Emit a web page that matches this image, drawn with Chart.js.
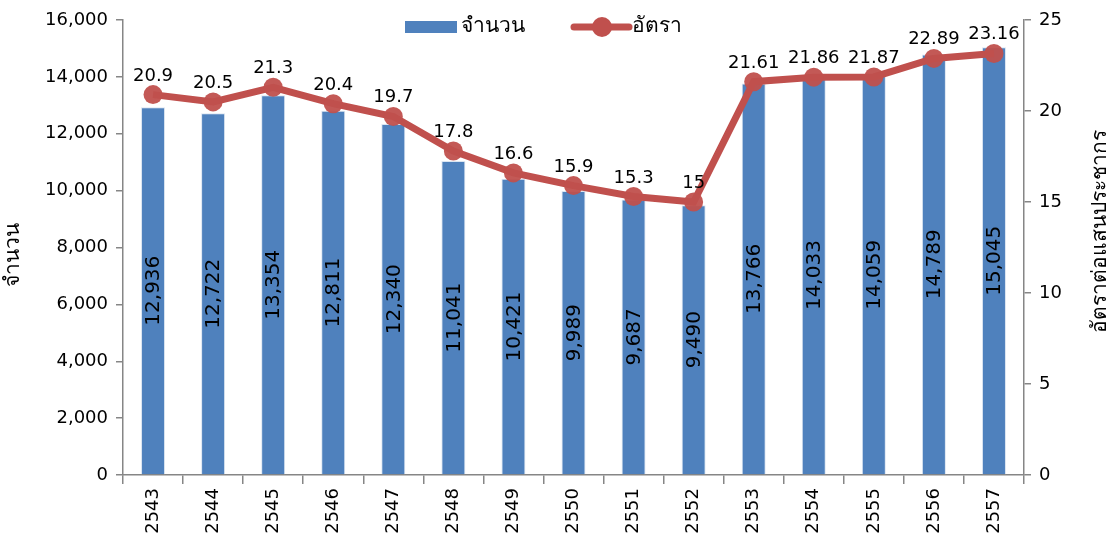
<!DOCTYPE html>
<html>
<head>
<meta charset="utf-8">
<script src="https://cdn.jsdelivr.net/npm/chart.js@4"></script>
<style>
  html, body { margin: 0; padding: 0; background: #fff; }
  #wrap { width: 1113px; height: 542px; }
</style>
</head>
<body>
<div id="wrap"><canvas id="chart" width="1113" height="542"></canvas></div>
<script>
const years = ['2543','2544','2545','2546','2547','2548','2549','2550','2551','2552','2553','2554','2555','2556','2557'];
const counts = [12936, 12722, 13354, 12811, 12340, 11041, 10421, 9989, 9687, 9490, 13766, 14033, 14059, 14789, 15045];
const rates = [20.9, 20.5, 21.3, 20.4, 19.7, 17.8, 16.6, 15.9, 15.3, 15, 21.61, 21.86, 21.87, 22.89, 23.16];
const countTicks = [0, 2000, 4000, 6000, 8000, 10000, 12000, 14000, 16000];
const rateTicks = [0, 5, 10, 15, 20, 25];

const BLUE = '#4F81BD';
const RED = '#C0504D';
const AXIS = '#868686';
const FONT = "'DejaVu Sans', sans-serif";

// labels, legend and axis titles drawn on top
const overlayPlugin = {
    id: 'overlay',
    afterDatasetsDraw(chart) {
        const ctx = chart.ctx;
        ctx.save();
        ctx.fillStyle = '#000';

        // bar values, rotated, centred in bar
        const barMeta = chart.getDatasetMeta(0);
        ctx.font = '20px ' + FONT;
        ctx.textAlign = 'center';
        ctx.textBaseline = 'middle';
        barMeta.data.forEach((bar, i) => {
            const midY = (bar.y + bar.base) / 2;
            ctx.save();
            ctx.translate(bar.x, midY);
            ctx.rotate(-Math.PI / 2);
            ctx.fillText(counts[i].toLocaleString('en-US'), 0, 1);
            ctx.restore();
        });

        // rate values above points
        const lineMeta = chart.getDatasetMeta(1);
        ctx.font = '18px ' + FONT;
        ctx.textBaseline = 'alphabetic';
        lineMeta.data.forEach((pt, i) => {
            ctx.fillText(String(rates[i]), pt.x, pt.y - 14);
        });

        // axis titles
        ctx.font = '21px ' + FONT;
        ctx.textBaseline = 'middle';
        ctx.save();
        ctx.translate(14, 255);
        ctx.rotate(-Math.PI / 2);
        ctx.fillText('จำนวน', 0, 0);
        ctx.restore();
        ctx.save();
        ctx.translate(1101, 231);
        ctx.rotate(-Math.PI / 2);
        ctx.fillText('อัตราต่อแสนประชากร', 0, 0);
        ctx.restore();

        // legend
        ctx.fillStyle = BLUE;
        ctx.fillRect(405, 21, 52, 12);
        ctx.fillStyle = '#000';
        ctx.font = '21px ' + FONT;
        ctx.textAlign = 'left';
        ctx.textBaseline = 'middle';
        ctx.fillText('จำนวน', 461, 27);
        ctx.strokeStyle = RED;
        ctx.lineWidth = 7;
        ctx.lineCap = 'round';
        ctx.beginPath();
        ctx.moveTo(574, 27);
        ctx.lineTo(629, 27);
        ctx.stroke();
        ctx.fillStyle = RED;
        ctx.beginPath();
        ctx.arc(602, 27, 10, 0, Math.PI * 2);
        ctx.fill();
        ctx.fillStyle = '#000';
        ctx.fillText('อัตรา', 632, 27);
        ctx.restore();
    }
};

new Chart(document.getElementById('chart'), {
    data: {
        labels: years,
        datasets: [
            {
                type: 'bar',
                label: 'จำนวน',
                data: counts,
                yAxisID: 'y',
                backgroundColor: BLUE,
                borderColor: '#dbe5f1',
                borderWidth: { left: 1, right: 1, top: 1, bottom: 0 },
                categoryPercentage: 1,
                barPercentage: 0.4,
                order: 2
            },
            {
                type: 'line',
                label: 'อัตรา',
                data: rates,
                yAxisID: 'y1',
                borderColor: RED,
                backgroundColor: RED,
                borderWidth: 7,
                pointRadius: 9.5,
                pointBackgroundColor: 'rgba(192,80,77,0.95)',
                pointBorderWidth: 0,
                tension: 0,
                order: 1
            }
        ]
    },
    options: {
        responsive: false,
        animation: false,
        layout: { padding: { top: 20, left: 0, right: 0, bottom: 0 } },
        plugins: {
            legend: { display: false },
            tooltip: { enabled: false }
        },
        scales: {
            x: {
                offset: true,
                grid: { display: true, drawOnChartArea: false, offset: true, tickLength: 9, color: AXIS, lineWidth: 1.5 },
                border: { color: AXIS, width: 1.5 },
                ticks: { color: '#000', font: { family: FONT, size: 18 }, minRotation: 90, maxRotation: 90, padding: 4 },
                afterFit(scale) { scale.height = 67; }
            },
            y: {
                position: 'left',
                min: 0, max: 16000,
                afterBuildTicks(scale) { scale.ticks = countTicks.map(v => ({ value: v })); },
                grid: { display: true, drawOnChartArea: false, tickLength: 7, color: AXIS, lineWidth: 1.5 },
                border: { color: AXIS, width: 1.5 },
                ticks: {
                    color: '#000', font: { family: FONT, size: 18 }, padding: 8,
                    callback: v => v.toLocaleString('en-US')
                },
                afterFit(scale) { scale.width = 123; }
            },
            y1: {
                position: 'right',
                min: 0, max: 25,
                afterBuildTicks(scale) { scale.ticks = rateTicks.map(v => ({ value: v })); },
                grid: { display: true, drawOnChartArea: false, tickLength: 7, color: AXIS, lineWidth: 1.5 },
                border: { color: AXIS, width: 1.5 },
                ticks: { color: '#000', font: { family: FONT, size: 18 }, padding: 8 },
                afterFit(scale) { scale.width = 89; }
            }
        }
    },
    plugins: [overlayPlugin]
});
</script>
</body>
</html>
